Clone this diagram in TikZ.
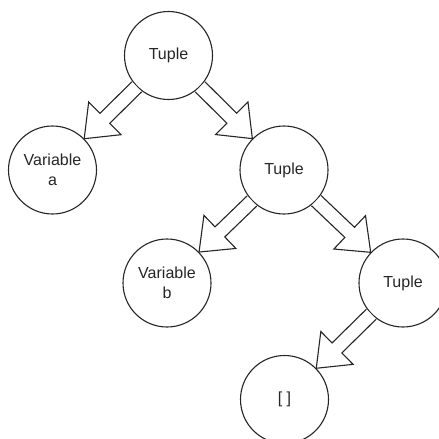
\documentclass[tikz,border=0pt]{standalone}
\usepackage{fontspec}
\setmainfont{Liberation Sans}
\usetikzlibrary{calc}
\tikzset{
  treenode/.style={circle,draw=black!85,line width=1.1pt,fill=white,minimum size=88pt,inner sep=0pt,align=center,font=\fontsize{16}{19.5}\selectfont,text=black!85},
  arrowline/.style={draw=black!85,line width=1.1pt,fill=white,line join=miter}
}
\newcommand\blockarrow[2]{%
  \path (#1) -- (#2) coordinate[pos=0] (bs) coordinate[pos=1] (be);
  \coordinate (hb) at ($(be)!29pt!(bs)$);
  \draw[arrowline] ($(bs)!7pt!90:(be)$) -- ($(hb)!7pt!90:(be)$) -- ($(hb)!23pt!90:(be)$) -- (be)
     -- ($(hb)!23pt!-90:(be)$) -- ($(hb)!7pt!-90:(be)$) -- ($(bs)!7pt!-90:(be)$);
}
\begin{document}
\begin{tikzpicture}[x=1pt,y=-1pt]
\clip (0,0) rectangle (439,439);
\fill[white] (0,0) rectangle (439,439);
\path (168.5,55.5) node[treenode] (t1) {Tuple};
\path (52.5,170) node[treenode] (va) {Variable\\a};
\path (284,170) node[treenode] (t2) {Tuple};
\path (167,283) node[treenode] (vb) {Variable\\b};
\path (403,283) node[treenode] (t3) {Tuple};
\path (284.5,399.5) node[treenode] (nil) {[ ]};
\blockarrow{t1}{va}
\blockarrow{t1}{t2}
\blockarrow{t2}{vb}
\blockarrow{t2}{t3}
\blockarrow{t3}{nil}
\end{tikzpicture}
\end{document}
